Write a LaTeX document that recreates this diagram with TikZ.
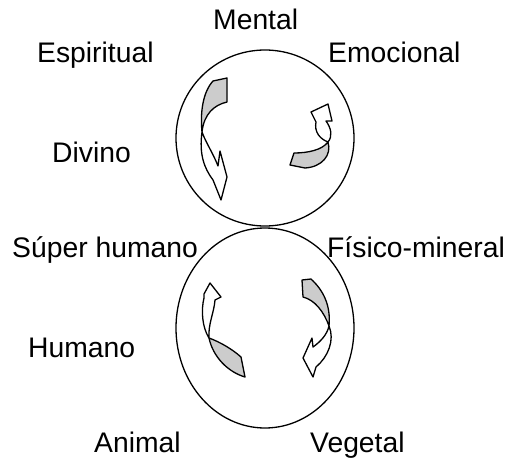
\documentclass[tikz,border=0pt]{standalone}
\usepackage{fontspec}
\setmainfont{Liberation Sans}
\tikzset{
  etiqueta/.style={font=\fontsize{28.3}{34}\selectfont, anchor=base west, inner sep=0pt},
  cinta/.style={draw=black, line width=1.3pt, line join=round},
  cintagris/.style={cinta, fill=black!20},
  cintablanca/.style={cinta, fill=white}
}
\begin{document}
\begin{tikzpicture}[x=1pt,y=-1pt]
    \useasboundingbox (0,0) rectangle (508,460);

    %los dos circulos
    \draw[line width=1.3pt] (265,138) ellipse (89 and 88);
    \draw[line width=1.3pt] (265,328) ellipse (89 and 100);

    %flecha arriba izquierda
    \draw[cintagris] (213,81) -- (227,78) -- (227,102) .. controls (214,105) and (204,114) .. (202,132)
        .. controls (200,112) and (203,92) .. (213,81) -- cycle;
    \draw[cintablanca] (202,132) .. controls (199,154) and (204,168) .. (213,180) -- (221,200) -- (227,177)
        -- (220,151) -- (218,166) .. controls (213,153) and (206,143) .. (202,132) -- cycle;

    %flecha arriba derecha
    \draw[cintagris] (290,165) -- (294,153) .. controls (308,153) and (322,150) .. (328,142)
        .. controls (332,155) and (322,167) .. (305,168) -- cycle;
    \draw[cintablanca] (328,142) .. controls (320,139) and (314,132) .. (316,122) -- (311,112) -- (328,104)
        -- (332,121) -- (326,121) .. controls (331,128) and (333,136) .. (328,142) -- cycle;

    %flecha abajo izquierda
    \draw[cintagris] (209,338) .. controls (213,357) and (228,372) .. (245,377) -- (241,357)
        .. controls (232,349) and (220,342) .. (209,338) -- cycle;
    \draw[cintablanca] (209,338) .. controls (202,327) and (201,310) .. (204,298) -- (204,294) -- (210,283)
        -- (221,297) -- (215,300) .. controls (214,313) and (208,324) .. (209,338) -- cycle;

    %flecha abajo derecha
    \draw[cintagris] (302,280) -- (311,279) .. controls (323,290) and (331,305) .. (329,326)
        .. controls (324,312) and (315,300) .. (303,297) -- cycle;
    \draw[cintablanca] (329,326) .. controls (335,340) and (328,357) .. (316,367) -- (313,377) -- (303,358)
        -- (312,338) -- (313,347) .. controls (320,342) and (327,335) .. (329,326) -- cycle;

    %los textos
    \node[etiqueta] (mental) at (213,30) {Mental};
    \node[etiqueta] (espiritual) at (37,63) {Espiritual};
    \node[etiqueta] (emocional) at (328,63) {Emocional};
    \node[etiqueta] (divino) at (52,162) {Divino};
    \node[etiqueta] (superhumano) at (12,257) {Súper humano};
    \node[etiqueta] (fisico) at (327,257) {Físico-mineral};
    \node[etiqueta] (humano) at (28,357) {Humano};
    \node[etiqueta] (animal) at (94,452) {Animal};
    \node[etiqueta] (vegetal) at (310,452) {Vegetal};
\end{tikzpicture}
\end{document}
